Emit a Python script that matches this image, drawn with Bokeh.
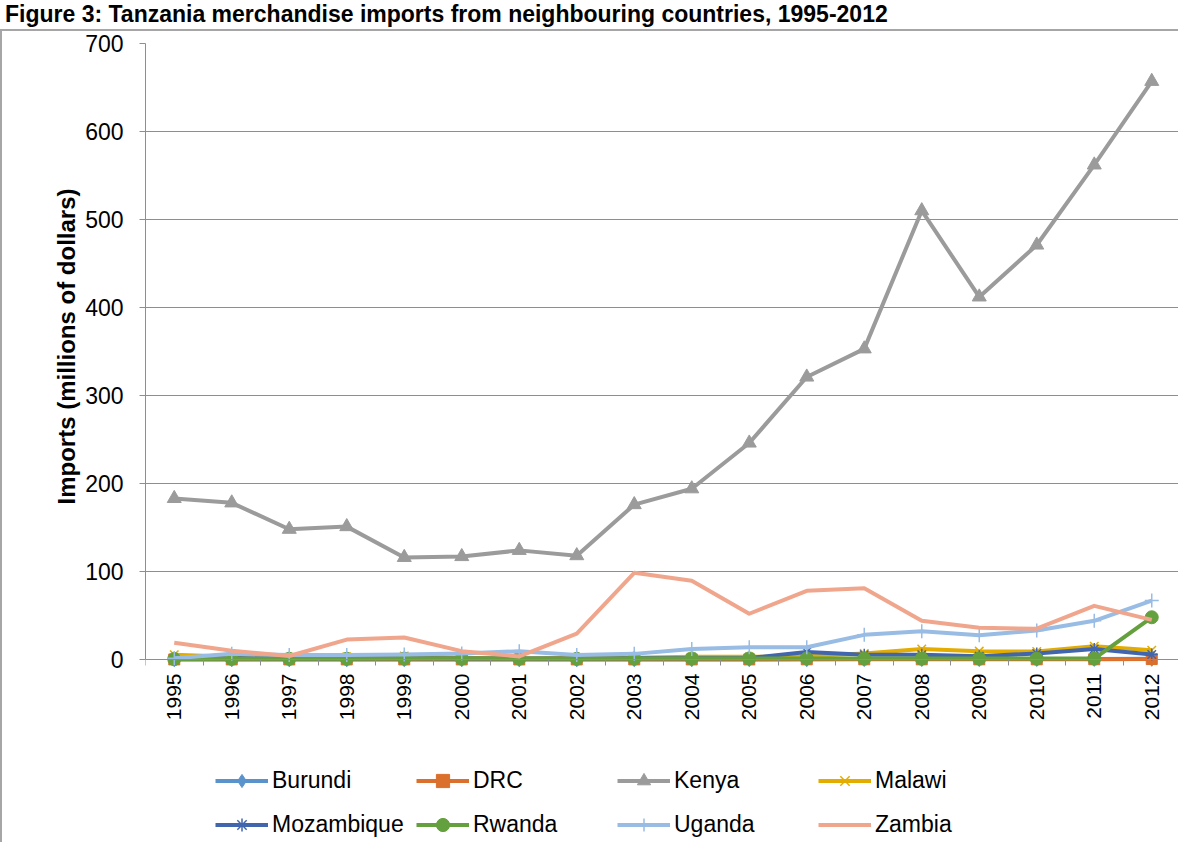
import math
from bokeh.plotting import figure
from bokeh.models import FixedTicker, Legend, LegendItem, Range1d, Div, Title
from bokeh.layouts import column
from bokeh.embed import file_html
from bokeh.resources import INLINE

title_text = "Figure 3: Tanzania merchandise imports from neighbouring countries, 1995-2012"
y_title = "Imports (millions of dollars)"

years = list(range(1995, 2013))
year_labels = [str(y) for y in years]
y_ticks = [0, 100, 200, 300, 400, 500, 600, 700]

burundi = [0.3, 0.3, 0.2, 0.2, 0.3, 0.3, 0.2, 0.2, 0.3, 0.3, 0.4, 0.4, 0.5, 0.5, 0.5, 0.6, 0.7, 0.8]
drc = [0.1, 0.1, 0.1, 0.1, 0.1, 0.1, 0.1, 0.1, 0.1, 0.1, 0.1, 0.2, 0.2, 0.2, 0.2, 0.2, 0.3, 0.5]
kenya = [183, 178, 148, 151, 116, 117, 124, 118, 176, 194, 246, 321, 353, 510, 412, 471, 562, 657]
malawi = [5.5, 3, 2.5, 3, 4, 2, 1, 2, 2, 3, 3, 4, 6.8, 12, 9.5, 9, 15, 10.5]
mozambique = [1, 1.5, 1, 1, 1.5, 1, 1, 1, 1.5, 1.5, 1.7, 8.6, 5.5, 5.5, 3.8, 6.8, 12, 5.6]
rwanda = [0.5, 0.8, 0.8, 0.8, 1, 1, 1, 0.8, 1, 1.2, 1.2, 1.2, 1, 1, 1, 1, 1, 48]
uganda = [1.5, 6.4, 5, 5, 5.6, 6.8, 9.4, 5, 6.4, 12, 14, 14, 28, 32, 27.5, 33, 44, 67]
zambia = [19, 10, 4, 22.6, 25, 9.5, 3.5, 29.5, 98.5, 89.5, 52, 78, 81, 44, 36, 35, 61, 45]

series = [
    ("Burundi", burundi, "#5A93CC", "diamond", 15),
    ("DRC", drc, "#DB6F2C", "square", 11),
    ("Kenya", kenya, "#9B9B9B", "triangle", 14),
    ("Malawi", malawi, "#E3AC00", "x", 12),
    ("Mozambique", mozambique, "#4166AE", "asterisk", 12),
    ("Rwanda", rwanda, "#65A03E", "circle", 13),
    ("Uganda", uganda, "#98BCE4", "cross", 14),
    ("Zambia", zambia, "#F0A68C", None, 0),
]

FONT = "Liberation Sans"
GRID = "#8E8E8E"

# layout geometry (screen pixels)
FIG_H = 813
TOP = 12
BOTTOM = 5
ZERO_FROM_BOTTOM = 180          # pixels between the zero line and frame bottom
frame_h = FIG_H - TOP - BOTTOM
px_per_unit = (frame_h - ZERO_FROM_BOTTOM) / 700.0
y_start = -ZERO_FROM_BOTTOM / px_per_unit

title = Div(text=title_text, width=1180, height=19,
            styles={"font-family": FONT, "font-weight": "bold", "font-size": "23px",
                    "white-space": "nowrap", "line-height": "19px", "color": "#000000"})

p = figure(width=1178, height=FIG_H, output_backend="svg", toolbar_location=None,
           x_range=Range1d(1994.5, 2012.5), y_range=Range1d(y_start, 700),
           min_border_left=143, min_border_right=0, min_border_top=TOP, min_border_bottom=BOTTOM)
p.styles = {"border-left": "2px solid #A6A6A6", "border-top": "2px solid #A6A6A6"}
p.outline_line_color = None
p.background_fill_color = "white"

p.xaxis.fixed_location = 0
p.xaxis.ticker = FixedTicker(ticks=years, minor_ticks=[y - 0.5 for y in years] + [years[-1] + 0.5])
p.xaxis.major_label_overrides = {y: s for y, s in zip(years, year_labels)}
p.xaxis.major_label_orientation = math.pi / 2
p.xaxis.major_tick_out = 0
p.xaxis.major_tick_in = 0
p.xaxis.minor_tick_out = 6
p.xaxis.minor_tick_in = 0
p.xaxis.minor_tick_line_color = GRID
p.xaxis.axis_line_color = GRID
p.xaxis.major_label_standoff = 8
p.xaxis.major_label_text_font_size = "21px"

p.yaxis.bounds = (0, 700)
p.yaxis.ticker = FixedTicker(ticks=y_ticks)
p.yaxis.major_tick_out = 6
p.yaxis.major_tick_in = 0
p.yaxis.minor_tick_out = 0
p.yaxis.major_tick_line_color = GRID
p.yaxis.axis_line_color = GRID
p.yaxis.major_label_standoff = 16
p.yaxis.major_label_text_font_size = "23px"

for ax in (p.xaxis, p.yaxis):
    ax.major_label_text_font = FONT
    ax.major_label_text_color = "#000000"

# y-axis title, positioned along the 0..700 span of the axis
ylab = Title(text=y_title, align="left", offset=335, standoff=6,
             text_font=FONT, text_font_style="bold", text_font_size="24px", text_color="#000000")
p.add_layout(ylab, "left")

p.xgrid.visible = False
p.ygrid.ticker = FixedTicker(ticks=y_ticks)
p.ygrid.grid_line_color = GRID

items = []
for name, vals, col, mk, sz in series:
    rs = [p.line(years, vals, line_color=col, line_width=4, line_join="round")]
    if mk is not None:
        if mk in ("x", "asterisk", "cross"):
            rs.append(p.scatter(years, vals, marker=mk, size=sz, line_color=col, line_width=1.5))
        else:
            rs.append(p.scatter(years, vals, marker=mk, size=sz, fill_color=col, line_color=col))
    items.append(LegendItem(label=name, renderers=rs))

legend = Legend(items=items, orientation="horizontal", ncols=4, location=(70, -2),
                label_text_font=FONT, label_text_font_size="23px", label_text_color="#000000",
                glyph_width=53, glyph_height=33, label_height=33, label_standoff=4,
                label_width=133, spacing=11, padding=0, margin=0,
                border_line_color=None, background_fill_alpha=0)
p.add_layout(legend, "center")

layout = column(title, p)
open("out.html", "w").write(file_html(layout, INLINE))
